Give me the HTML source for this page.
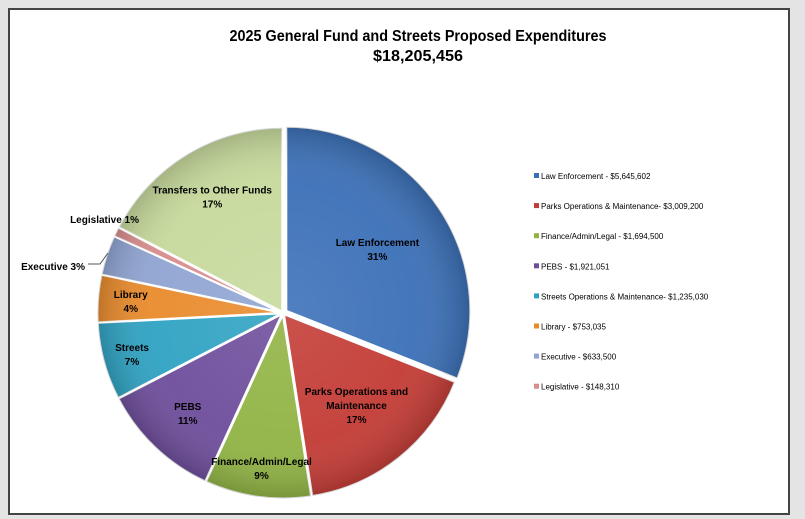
<!DOCTYPE html>
<html><head><meta charset="utf-8"><style>
body{margin:0;width:805px;height:519px;background:#e4e4e4;font-family:"Liberation Sans",sans-serif;overflow:hidden}
#frame{position:absolute;left:8px;top:8px;width:778px;height:503px;background:#fff;border:2px solid #444}
</style></head><body>
<div id="frame"></div>
<svg id="chart" width="805" height="519" style="position:absolute;left:0;top:0">
<defs>
<radialGradient id="shade" gradientUnits="userSpaceOnUse" cx="283" cy="313" r="190"><stop offset="0" stop-color="#fff" stop-opacity="0.12"/><stop offset="0.7" stop-color="#fff" stop-opacity="0.05"/><stop offset="1" stop-color="#000" stop-opacity="0.2"/></radialGradient>
</defs>
<text x="418" y="41" text-anchor="middle" font-size="15.5" font-weight="bold" textLength="377" lengthAdjust="spacingAndGlyphs">2025 General Fund and Streets Proposed Expenditures</text>
<text x="418" y="61" text-anchor="middle" font-size="15.5" font-weight="bold" textLength="90" lengthAdjust="spacingAndGlyphs">$18,205,456</text>
<g id="slices"></g><g id="labels"></g><g id="legend"></g>
</svg>
<script>
const categories=["Law Enforcement","Parks Operations & Maintenance","Finance/Admin/Legal","PEBS","Streets Operations & Maintenance","Library","Executive","Legislative","Transfers to Other Funds"];
const values=[5645602,3009200,1694500,1921051,1235030,753035,633500,148310,3165228];
const sliceLabels=[["Law Enforcement","31%"],["Parks Operations and","Maintenance","17%"],["Finance/Admin/Legal","9%"],["PEBS","11%"],["Streets","7%"],["Library","4%"],["Executive 3%"],["Legislative 1%"],["Transfers to Other Funds","17%"]];
const labelRadius=[0.62,0.64,0.85,0.75,0.85,0.83,0,0,0.74];
const legendText=["Law Enforcement - $5,645,602","Parks Operations & Maintenance- $3,009,200","Finance/Admin/Legal - $1,694,500","PEBS - $1,921,051","Streets Operations & Maintenance- $1,235,030","Library - $753,035","Executive - $633,500","Legislative - $148,310"];
const colors=["#3a6fb7","#c33a34","#90b343","#6d4c9b","#2ea2c2","#e98a2b","#8fa4d2","#d98c8c","#c6d99b"];
const NS="http://www.w3.org/2000/svg";
const cx=283,cy=313,R=184;
const total=values.reduce((a,b)=>a+b,0);
const sl=document.getElementById('slices'),lb=document.getElementById('labels'),lg=document.getElementById('legend');
function pt(a,r,ox,oy){return [ox+r*Math.sin(a),oy-r*Math.cos(a)];}
let acc=0;
values.forEach((v,i)=>{
  const a0=acc/total*2*Math.PI;acc+=v;const a1=acc/total*2*Math.PI;
  const mid=(a0+a1)/2,off=i===0?4:1.5;
  const ox=cx+off*Math.sin(mid),oy=cy-off*Math.cos(mid);
  const p0=pt(a0,R,ox,oy),p1=pt(a1,R,ox,oy);
  const d=`M${ox},${oy}L${p0[0]},${p0[1]}A${R},${R} 0 ${a1-a0>Math.PI?1:0} 1 ${p1[0]},${p1[1]}Z`;
  const p=document.createElementNS(NS,'path');p.setAttribute('d',d);p.setAttribute('fill',colors[i]);p.setAttribute('stroke','#fff');p.setAttribute('stroke-width','2');
  
  
  sl.appendChild(p);
  const s=document.createElementNS(NS,'path');s.setAttribute('d',d);s.setAttribute('fill','url(#shade)');s.setAttribute('stroke','none');s.setAttribute('pointer-events','none');sl.appendChild(s);
  const lines=sliceLabels[i];let lx,ly,anchor='middle';
  if(i===6){lx=85;ly=266;anchor='end';}
  else if(i===7){lx=139;ly=219;anchor='end';}
  else {[lx,ly]=pt(mid,R*labelRadius[i],cx,cy);ly-=(lines.length-1)*7;}
  lines.forEach((t,k)=>{const tx=document.createElementNS(NS,'text');tx.setAttribute('x',lx);tx.setAttribute('y',ly+k*14+4);tx.setAttribute('text-anchor',anchor);tx.setAttribute('font-size','10');tx.setAttribute('font-weight','bold');tx.textContent=t;
    
    
    lb.appendChild(tx);});
});
const ln=document.createElementNS(NS,'polyline');ln.setAttribute('points','88,264 100,264 108,253');ln.setAttribute('fill','none');ln.setAttribute('stroke','#555');lb.appendChild(ln);
legendText.forEach((t,i)=>{
  const y=178+i*30.1;
  const r=document.createElementNS(NS,'rect');r.setAttribute('x',534);r.setAttribute('y',y-5);r.setAttribute('width',5);r.setAttribute('height',5);r.setAttribute('fill',colors[i]);
  
  
  lg.appendChild(r);
  const tx=document.createElementNS(NS,'text');tx.setAttribute('x',541);tx.setAttribute('y',y+1);tx.setAttribute('font-size','8');tx.textContent=t;
  
  
  lg.appendChild(tx);
});
</script>
</body></html>
